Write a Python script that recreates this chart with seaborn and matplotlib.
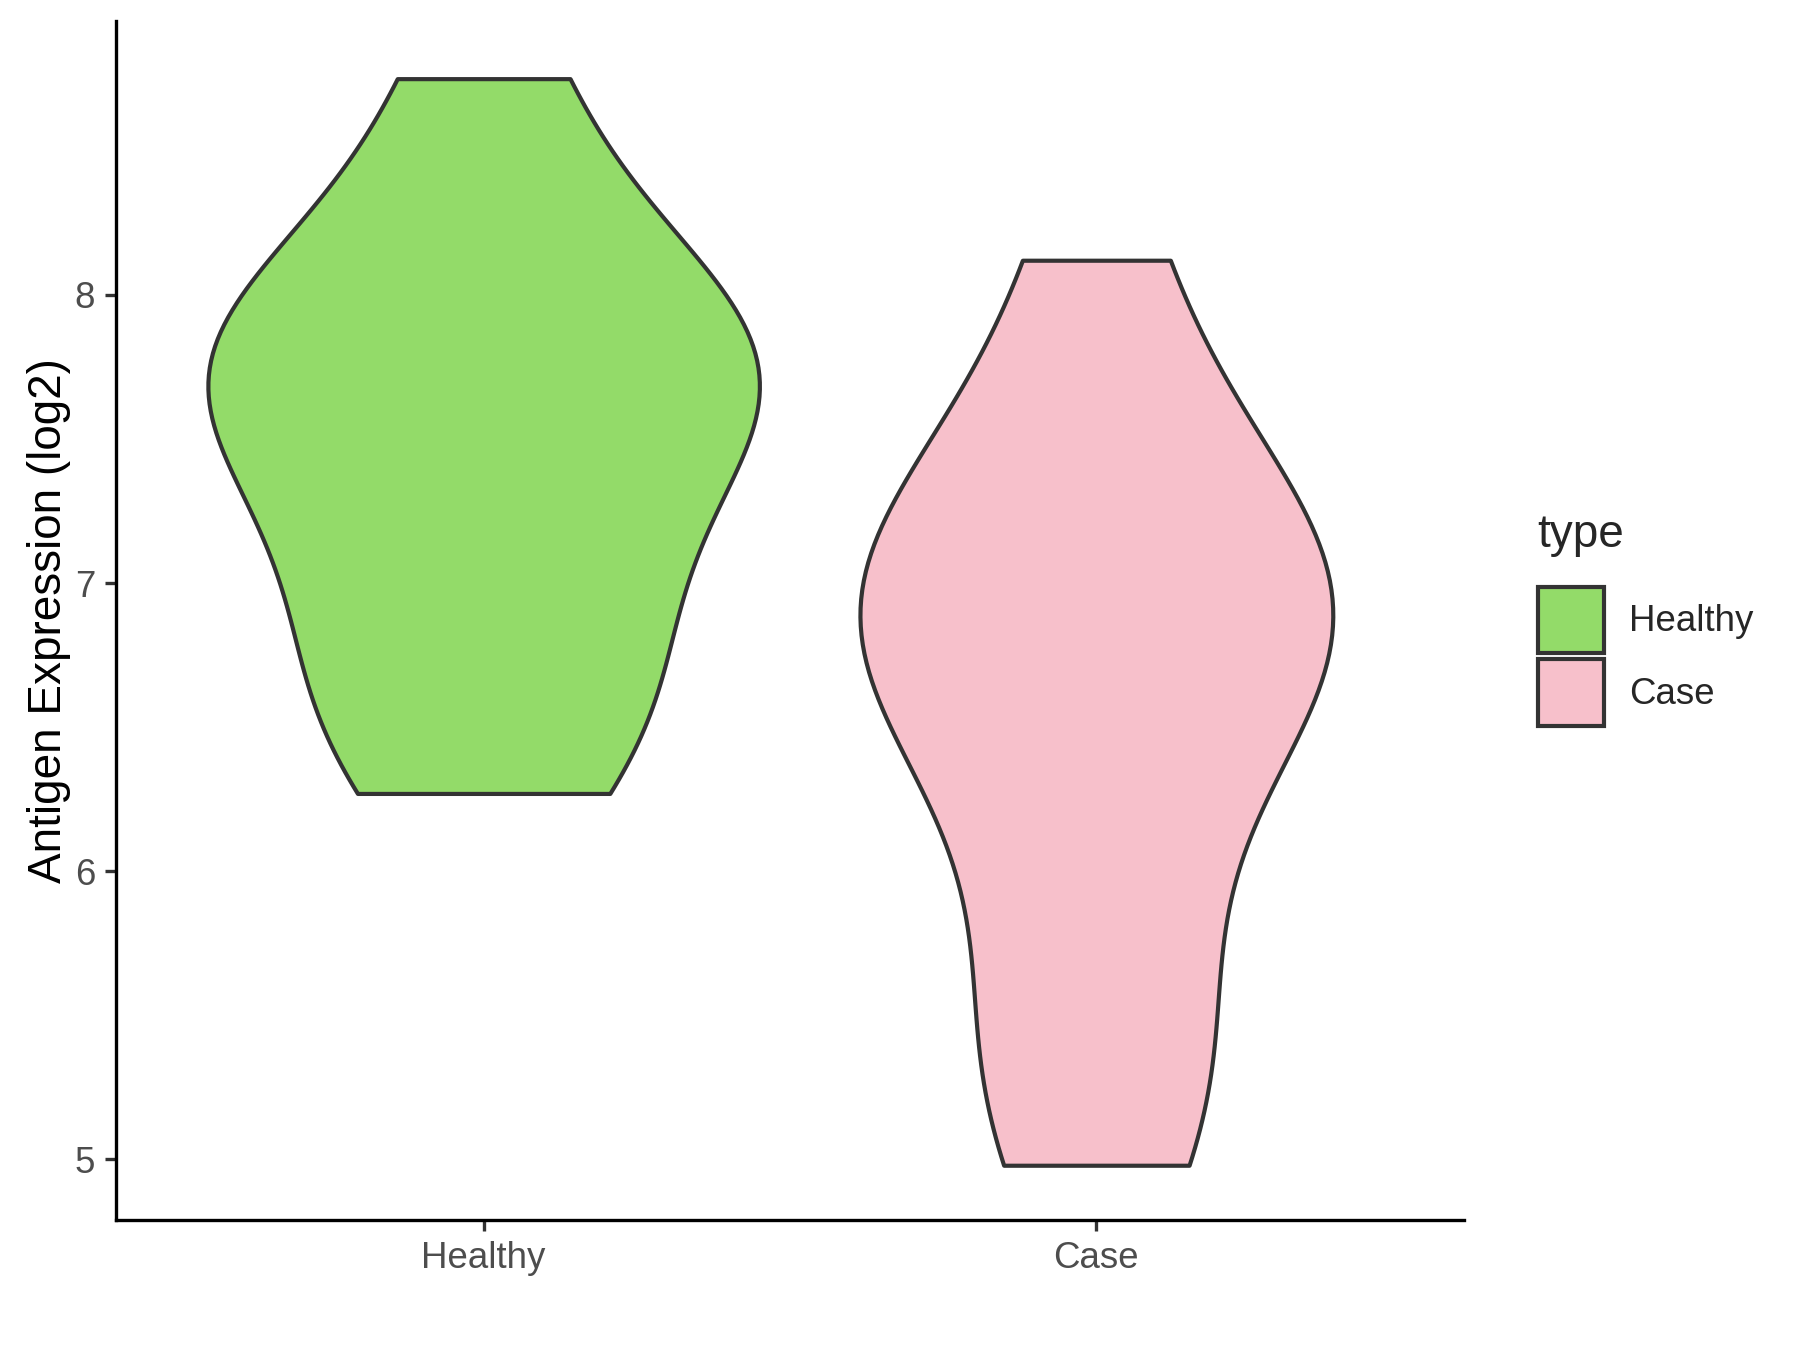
import matplotlib
matplotlib.use("Agg")
import matplotlib.pyplot as plt
import matplotlib.patches as mpatches
import pandas as pd
import seaborn as sns

# sample values (log2 expression)
healthy_vals = [6.27, 6.5, 6.8, 7.05, 7.4, 7.6, 7.7, 7.8, 7.95, 8.2, 8.75]
case_vals = [4.98, 5.3, 5.65, 6.3, 6.6, 6.8, 6.9, 7.0, 7.15, 7.45, 8.12]
groups = ["Healthy", "Case"]
colors = {"Healthy": "#93DB69", "Case": "#F7C0CB"}
yticks = [5, 6, 7, 8]

df = pd.DataFrame({
    "type": ["Healthy"] * len(healthy_vals) + ["Case"] * len(case_vals),
    "value": healthy_vals + case_vals,
})

sns.set_theme(style="white")
plt.rcParams["font.family"] = ["Liberation Sans", "DejaVu Sans"]

fig = plt.figure(figsize=(6, 4.5), dpi=300)
ax = fig.add_axes([116 / 1800, 130 / 1350, (1464 - 116) / 1800, (1220 - 21) / 1350])

# area-scaled, trimmed violins like ggplot's geom_violin
sns.violinplot(data=df, x="type", y="value", hue="type", order=groups,
               hue_order=groups, palette=colors, cut=0, inner=None,
               density_norm="area", common_norm=True, width=0.9,
               bw_method="silverman", bw_adjust=0.85,
               linewidth=1.0, linecolor="#333333", saturation=1,
               legend=False, ax=ax)

ax.set_xlim(-0.6, 1.6)
ax.set_ylim(4.79, 8.95)
ax.set_yticks(yticks)
ax.set_yticklabels([str(t) for t in yticks])
ax.set_xlabel("")
ax.set_ylabel("Antigen Expression (log2)", fontsize=11, color="black", labelpad=1)
ax.tick_params(axis="both", labelsize=8.8, labelcolor="#4D4D4D", colors="#333333",
               length=2.75, width=0.8, pad=2.2, direction="out", left=True, bottom=True)
for side in ["top", "right"]:
    ax.spines[side].set_visible(False)
for side in ["left", "bottom"]:
    ax.spines[side].set_color("black")
    ax.spines[side].set_linewidth(0.8)

handles = [mpatches.Patch(facecolor=colors[g], edgecolor="#333333", linewidth=1.0, label=g)
           for g in groups]
leg = fig.legend(handles=handles, title="type", loc="center left",
                 bbox_to_anchor=(1523 / 1800, 0.541), frameon=False,
                 fontsize=8.8, title_fontsize=11, handlelength=1.82, handleheight=2.42,
                 labelspacing=0.16, handletextpad=0.68, borderaxespad=0)
leg._legend_box.align = "left"
leg._legend_box.sep = 7

fig.savefig("out.png", dpi=300)
